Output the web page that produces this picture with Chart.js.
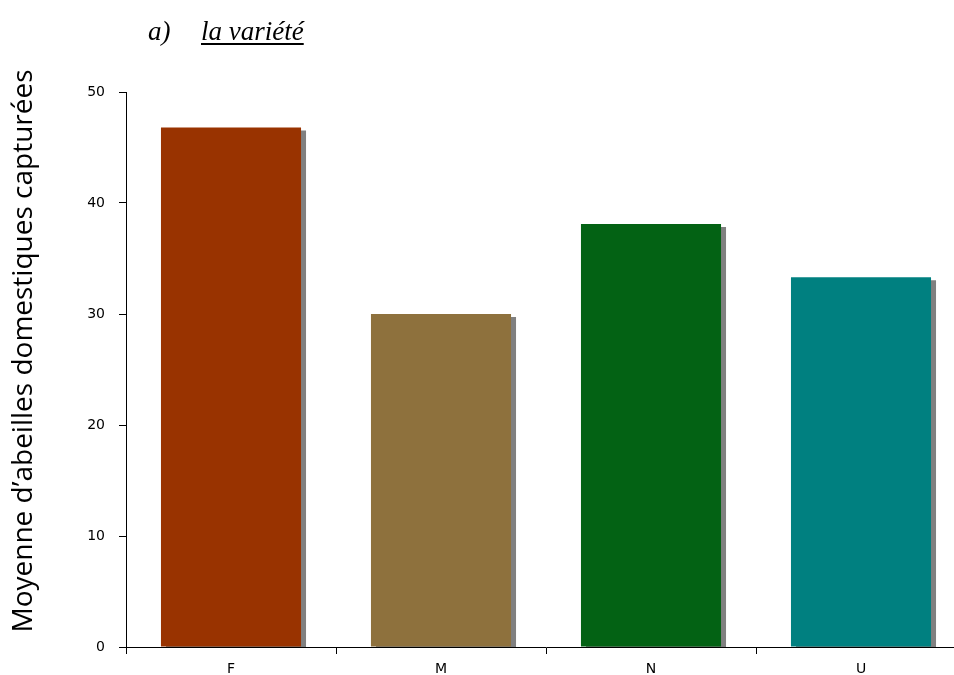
<!DOCTYPE html>
<html>
<head>
<meta charset="utf-8">
<script src="https://cdn.jsdelivr.net/npm/chart.js@4/dist/chart.umd.min.js"></script>
<style>
  html, body { margin: 0; padding: 0; background: #fff; overflow: hidden; }
  #wrap { position: relative; width: 954px; height: 675px; overflow: hidden; }
  #chart { position: absolute; left: 0; top: 0; }
  #heading {
    position: absolute; left: 148px; top: 16px;
    font-family: "Liberation Serif", "Times New Roman", serif;
    font-style: italic; font-size: 27px; color: #000; white-space: pre;
  }
  #heading span { margin-left: 17px; text-decoration: underline; text-decoration-thickness: 2px; text-underline-offset: 3px; }
</style>
</head>
<body>
<div id="wrap">
  <canvas id="chart" width="980" height="675"></canvas>
  <div id="heading">a)  <span>la variété</span></div>
</div>
<script>
// Varieties and mean number of honey bees caught per variety
const varieties = ['F', 'M', 'N', 'U'];
const meanBees = [46.8, 30.0, 38.1, 33.3];
const barColors = ['#993300', '#8E713D', '#036214', '#008080'];
const yTicks = [0, 10, 20, 30, 40, 50];
const yTitle = 'Moyenne d\u2019abeilles domestiques capturées';

// Flat grey drop shadow behind each bar
const barShadow = {
  id: 'barShadow',
  beforeDatasetsDraw(chart) {
    const ctx = chart.ctx;
    ctx.save();
    ctx.shadowColor = '#808080';
    ctx.shadowOffsetX = 5;
    ctx.shadowOffsetY = 3;
    ctx.shadowBlur = 0;
  },
  afterDatasetsDraw(chart) {
    chart.ctx.restore();
  }
};

// Vertical axis caption
const sideTitle = {
  id: 'sideTitle',
  afterDraw(chart) {
    const ctx = chart.ctx;
    ctx.save();
    ctx.translate(24, 351);
    ctx.rotate(-Math.PI / 2);
    ctx.font = '28px "Open Sans", "DejaVu Sans", sans-serif';
    ctx.fillStyle = '#000';
    ctx.textAlign = 'center';
    ctx.textBaseline = 'middle';
    ctx.fillText(yTitle, 0, 0);
    ctx.restore();
  }
};

const tickFont = { family: '"DejaVu Sans", Verdana, sans-serif', size: 14 };

new Chart(document.getElementById('chart'), {
  type: 'bar',
  data: {
    labels: varieties,
    datasets: [{
      data: meanBees,
      backgroundColor: barColors,
      borderWidth: 0,
      barPercentage: 0.667,
      categoryPercentage: 1.0
    }]
  },
  options: {
    responsive: false,
    animation: false,
    layout: { padding: { top: 92, right: 14, left: 0, bottom: 0 } },
    plugins: { legend: { display: false }, tooltip: { enabled: false }, title: { display: false } },
    scales: {
      x: {
        offset: true,
        grid: { offset: true, drawOnChartArea: false, drawTicks: true, tickLength: 7, color: '#000' },
        border: { display: true, color: '#000', width: 1 },
        ticks: { color: '#000', font: tickFont, padding: 7 },
        afterFit(scale) { scale.height = 28; }
      },
      y: {
        min: 0, max: 50,
        afterBuildTicks(scale) { scale.ticks = yTicks.map(v => ({ value: v })); },
        grid: { drawOnChartArea: false, drawTicks: true, tickLength: 7, color: '#000' },
        border: { display: true, color: '#000', width: 1 },
        ticks: { color: '#000', font: tickFont, padding: 14 },
        afterFit(scale) { scale.width = 126; }
      }
    }
  },
  plugins: [barShadow, sideTitle]
});
</script>
</body>
</html>
